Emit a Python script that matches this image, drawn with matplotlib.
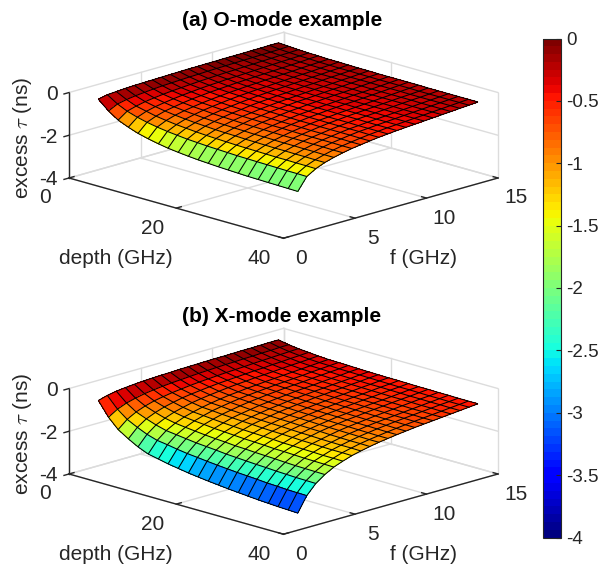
import numpy as np
import matplotlib
matplotlib.use("Agg")
import matplotlib.pyplot as plt
from matplotlib.cm import ScalarMappable
from matplotlib.colors import Normalize
from mpl_toolkits.mplot3d import proj3d

plt.rcParams["font.family"] = ["Liberation Sans", "DejaVu Sans"]
plt.rcParams["axes.unicode_minus"] = False
plt.rcParams["mathtext.fontset"] = "cm"

W, H = 602, 564
TEXT = "#262626"

# depth and frequency nodes of the mesh
depth = [2.8, 4.7, 6.5, 8.4, 10.2, 12.1, 14.0, 15.8, 17.7, 19.6, 21.4,
         23.3, 25.2, 27.0, 28.9, 30.7, 32.6, 34.5, 36.3, 38.2, 40.0]
freq = [1.0, 1.63, 2.26, 2.89, 3.52, 4.15, 4.78, 5.41, 6.04, 6.67, 7.3,
        7.93, 8.56, 9.19, 9.82, 10.45, 11.08, 11.71, 12.34, 12.97, 13.6]

# excess delay, one row per frequency, one column per depth
tau_o = [
    [-.30, -.72, -1.02, -1.22, -1.38, -1.50, -1.60, -1.68, -1.74, -1.79, -1.83, -1.86, -1.89, -1.91, -1.93, -1.95, -1.96, -1.97, -1.98, -1.99, -2.00],
    [-.21, -.51, -.72, -.87, -.98, -1.07, -1.14, -1.19, -1.24, -1.27, -1.30, -1.32, -1.34, -1.36, -1.37, -1.38, -1.39, -1.40, -1.41, -1.41, -1.42],
    [-.18, -.42, -.60, -.71, -.81, -.88, -.94, -.98, -1.02, -1.05, -1.07, -1.09, -1.11, -1.12, -1.13, -1.14, -1.15, -1.15, -1.16, -1.16, -1.17],
    [-.15, -.36, -.51, -.61, -.69, -.75, -.80, -.84, -.87, -.90, -.92, -.93, -.95, -.96, -.97, -.98, -.98, -.99, -.99, -1.00, -1.00],
    [-.13, -.32, -.45, -.54, -.61, -.66, -.70, -.74, -.77, -.79, -.81, -.82, -.84, -.84, -.85, -.86, -.86, -.87, -.87, -.88, -.88],
    [-.12, -.28, -.40, -.48, -.54, -.59, -.62, -.66, -.68, -.70, -.72, -.73, -.74, -.75, -.76, -.76, -.76, -.77, -.77, -.78, -.78],
    [-.11, -.25, -.36, -.43, -.48, -.53, -.56, -.59, -.61, -.63, -.64, -.65, -.67, -.67, -.68, -.69, -.69, -.69, -.69, -.70, -.70],
    [-.10, -.23, -.33, -.39, -.44, -.48, -.51, -.54, -.56, -.58, -.59, -.60, -.61, -.61, -.62, -.63, -.63, -.63, -.63, -.64, -.64],
    [-.09, -.21, -.30, -.35, -.40, -.44, -.46, -.49, -.50, -.52, -.53, -.54, -.55, -.56, -.56, -.57, -.57, -.57, -.57, -.58, -.58],
    [-.08, -.19, -.27, -.32, -.37, -.40, -.42, -.45, -.46, -.48, -.49, -.49, -.50, -.51, -.51, -.52, -.52, -.52, -.52, -.53, -.53],
    [-.07, -.18, -.25, -.30, -.34, -.37, -.39, -.41, -.43, -.44, -.45, -.46, -.47, -.47, -.48, -.48, -.48, -.49, -.49, -.49, -.49],
    [-.07, -.16, -.23, -.27, -.31, -.34, -.36, -.38, -.39, -.41, -.41, -.42, -.43, -.43, -.44, -.44, -.44, -.45, -.45, -.45, -.45],
    [-.06, -.15, -.21, -.26, -.29, -.32, -.34, -.35, -.37, -.38, -.39, -.39, -.40, -.40, -.41, -.41, -.41, -.42, -.42, -.42, -.42],
    [-.06, -.14, -.20, -.24, -.27, -.29, -.31, -.33, -.34, -.35, -.36, -.36, -.37, -.37, -.38, -.38, -.38, -.39, -.39, -.39, -.39],
    [-.05, -.13, -.18, -.22, -.25, -.27, -.29, -.30, -.31, -.32, -.33, -.33, -.34, -.35, -.35, -.35, -.35, -.36, -.36, -.36, -.36],
    [-.05, -.12, -.17, -.20, -.23, -.25, -.26, -.28, -.29, -.30, -.30, -.31, -.31, -.32, -.32, -.32, -.32, -.33, -.33, -.33, -.33],
    [-.05, -.11, -.15, -.18, -.21, -.23, -.24, -.25, -.26, -.27, -.28, -.28, -.29, -.29, -.29, -.29, -.29, -.30, -.30, -.30, -.30],
    [-.04, -.10, -.14, -.16, -.19, -.20, -.22, -.23, -.23, -.24, -.25, -.25, -.26, -.26, -.26, -.26, -.26, -.27, -.27, -.27, -.27],
    [-.04, -.09, -.12, -.15, -.17, -.18, -.19, -.20, -.21, -.22, -.22, -.22, -.23, -.23, -.23, -.24, -.24, -.24, -.24, -.24, -.24],
    [-.03, -.08, -.11, -.13, -.14, -.16, -.17, -.18, -.18, -.19, -.19, -.20, -.20, -.20, -.20, -.21, -.21, -.21, -.21, -.21, -.21],
    [-.03, -.06, -.09, -.11, -.12, -.14, -.14, -.15, -.16, -.16, -.17, -.17, -.17, -.17, -.17, -.18, -.18, -.18, -.18, -.18, -.18],
]

tau_x = [
    [-.55, -1.20, -1.65, -1.95, -2.20, -2.40, -2.50, -2.60, -2.68, -2.76, -2.82, -2.88, -2.93, -2.98, -3.02, -3.06, -3.10, -3.13, -3.16, -3.18, -3.20],
    [-.43, -.94, -1.29, -1.53, -1.73, -1.88, -1.95, -2.03, -2.10, -2.15, -2.20, -2.25, -2.29, -2.33, -2.36, -2.39, -2.43, -2.45, -2.48, -2.49, -2.50],
    [-.35, -.77, -1.06, -1.25, -1.41, -1.54, -1.60, -1.66, -1.72, -1.76, -1.80, -1.85, -1.88, -1.91, -1.94, -1.96, -1.99, -2.01, -2.03, -2.04, -2.05],
    [-.30, -.66, -.90, -1.07, -1.21, -1.31, -1.37, -1.42, -1.47, -1.51, -1.54, -1.58, -1.60, -1.63, -1.65, -1.67, -1.70, -1.72, -1.73, -1.74, -1.75],
    [-.26, -.57, -.78, -.93, -1.05, -1.14, -1.19, -1.23, -1.28, -1.31, -1.34, -1.37, -1.39, -1.41, -1.44, -1.45, -1.47, -1.49, -1.50, -1.51, -1.52],
    [-.23, -.51, -.70, -.83, -.94, -1.02, -1.06, -1.10, -1.14, -1.17, -1.20, -1.22, -1.24, -1.26, -1.29, -1.30, -1.32, -1.33, -1.35, -1.35, -1.36],
    [-.21, -.46, -.63, -.74, -.84, -.92, -.95, -.99, -1.02, -1.05, -1.07, -1.10, -1.12, -1.13, -1.15, -1.17, -1.18, -1.20, -1.21, -1.21, -1.22],
    [-.19, -.42, -.58, -.68, -.77, -.84, -.87, -.91, -.94, -.96, -.99, -1.01, -1.02, -1.04, -1.06, -1.07, -1.09, -1.10, -1.11, -1.11, -1.12],
    [-.18, -.39, -.53, -.63, -.71, -.77, -.80, -.83, -.87, -.89, -.91, -.93, -.94, -.96, -.97, -.98, -1.00, -1.01, -1.02, -1.02, -1.03],
    [-.16, -.36, -.49, -.58, -.66, -.71, -.74, -.77, -.80, -.82, -.84, -.86, -.87, -.88, -.90, -.91, -.92, -.93, -.94, -.95, -.95],
    [-.15, -.33, -.46, -.54, -.61, -.67, -.69, -.72, -.75, -.77, -.78, -.80, -.81, -.83, -.84, -.85, -.86, -.87, -.88, -.89, -.89],
    [-.14, -.31, -.43, -.51, -.57, -.62, -.65, -.67, -.70, -.71, -.73, -.75, -.76, -.77, -.78, -.79, -.81, -.81, -.82, -.83, -.83],
    [-.13, -.29, -.40, -.48, -.54, -.59, -.61, -.63, -.66, -.67, -.69, -.70, -.71, -.73, -.74, -.75, -.76, -.76, -.77, -.78, -.78],
    [-.12, -.27, -.38, -.45, -.50, -.55, -.57, -.59, -.61, -.63, -.64, -.66, -.67, -.68, -.69, -.70, -.71, -.72, -.72, -.73, -.73],
    [-.12, -.26, -.36, -.42, -.48, -.52, -.54, -.56, -.58, -.59, -.61, -.62, -.63, -.64, -.65, -.66, -.67, -.68, -.68, -.69, -.69],
    [-.11, -.24, -.33, -.40, -.45, -.49, -.51, -.53, -.55, -.56, -.57, -.59, -.59, -.60, -.61, -.62, -.63, -.64, -.64, -.65, -.65],
    [-.10, -.23, -.31, -.37, -.42, -.46, -.48, -.49, -.51, -.52, -.54, -.55, -.56, -.57, -.58, -.58, -.59, -.60, -.60, -.61, -.61],
    [-.10, -.21, -.29, -.35, -.39, -.43, -.44, -.46, -.48, -.49, -.50, -.51, -.52, -.53, -.54, -.54, -.55, -.56, -.56, -.57, -.57],
    [-.09, -.20, -.27, -.32, -.37, -.40, -.41, -.43, -.45, -.46, -.47, -.48, -.48, -.49, -.50, -.51, -.51, -.52, -.52, -.53, -.53],
    [-.08, -.18, -.25, -.30, -.34, -.37, -.38, -.40, -.41, -.42, -.43, -.44, -.45, -.46, -.46, -.47, -.48, -.48, -.49, -.49, -.49],
    [-.08, -.17, -.23, -.27, -.31, -.34, -.35, -.36, -.38, -.39, -.40, -.41, -.41, -.42, -.43, -.43, -.44, -.44, -.45, -.45, -.45],
]

depth_ticks = [0, 20, 40]
freq_ticks = [0, 5, 10, 15]
tau_ticks = [-4, -2, 0]
cbar_ticks = [0, -0.5, -1, -1.5, -2, -2.5, -3, -3.5, -4]
cbar_labels = ["0", "-0.5", "-1", "-1.5", "-2", "-2.5", "-3", "-3.5", "-4"]

cmap = plt.get_cmap("jet", 64)
norm = Normalize(-4, 0)


def project(ax, x, y, z):
    x2, y2, _ = proj3d.proj_transform(x, y, z, ax.get_proj())
    return x2, y2


def to_pixels(ax, x, y, z):
    return ax.transData.transform(project(ax, x, y, z))


def fit_box(ax, left_x, right_x, corner_y):
    # scale and move the axes so that the floor corners land on these pixels
    ax.apply_aspect()
    p0 = to_pixels(ax, 0, 0, -4)
    p1 = to_pixels(ax, 40, 15, -4)
    pos = ax.get_position()
    size = pos.width * W * (right_x - left_x) / (p1[0] - p0[0])
    ax.set_position([pos.x0, pos.y0, size / W, size / H])
    ax.apply_aspect()
    p0 = to_pixels(ax, 0, 0, -4)
    pos = ax.get_position()
    ax.set_position([pos.x0 + (left_x - p0[0]) / W,
                     pos.y0 + (H - corner_y - p0[1]) / H,
                     pos.width, pos.height])
    ax.apply_aspect()


def draw_panel(tau, title, title_y, corner_y):
    ax = fig.add_axes([0.1, 0.1, 0.5, 0.5 * W / H], projection="3d", computed_zorder=False)
    ax.patch.set_visible(False)
    ax.set_proj_type("ortho")
    ax.view_init(elev=16.3, azim=-45)
    ax.set_box_aspect((1, 1, 0.2935))
    ax.set_xlim(0, 40, view_margin=0)
    ax.set_ylim(0, 15, view_margin=0)
    ax.set_zlim(-4, 0, view_margin=0)
    ax.set_axis_off()
    fit_box(ax, 69, 498, corner_y)

    # back walls and floor grid
    grid = {"color": "#dcdcdc", "lw": 1.0, "zorder": 1, "clip_on": False}
    for d in depth_ticks:
        ax.plot([d, d], [0, 15], [-4, -4], **grid)
        ax.plot([d, d], [15, 15], [-4, 0], **grid)
    for f in freq_ticks:
        ax.plot([0, 40], [f, f], [-4, -4], **grid)
        ax.plot([0, 0], [f, f], [-4, 0], **grid)
    for z in tau_ticks:
        ax.plot([0, 0], [0, 15], [z, z], **grid)
        ax.plot([0, 40], [15, 15], [z, z], **grid)

    X, Y = np.meshgrid(depth, freq)
    Z = np.array(tau)
    surf = ax.plot_surface(X, Y, Z, facecolors=cmap(norm(Z)), rstride=1, cstride=1,
                           shade=False, linewidth=0, antialiased=False, zorder=2)
    surf.set_clip_on(False)
    # mesh lines on top so both directions stay equally visible
    mesh = ax.plot_wireframe(X, Y, Z, rstride=1, cstride=1, color="black", linewidth=0.75, zorder=3)
    mesh.set_clip_on(False)

    # front axis lines and ticks
    line = {"color": TEXT, "lw": 1.0, "zorder": 4, "clip_on": False}
    label = {"textcoords": "offset pixels", "va": "center", "fontsize": 15, "color": TEXT,
             "annotation_clip": False}
    ax.plot([0, 40], [0, 0], [-4, -4], **line)
    ax.plot([40, 40], [0, 15], [-4, -4], **line)
    ax.plot([0, 0], [0, 0], [-4, 0], **line)
    for d in depth_ticks:
        ax.plot([d, d], [0, 0.35], [-4, -4], **line)
        ax.annotate(str(d), project(ax, d, 0, -4), xytext=(-24, -20), ha="center", **label)
    for f in freq_ticks:
        ax.plot([40, 39.1], [f, f], [-4, -4], **line)
        ax.annotate(str(f), project(ax, 40, f, -4), xytext=(18, -20), ha="center", **label)
    for z in tau_ticks:
        ax.plot([0, 0], [0, -0.35], [z, z], **line)
        ax.annotate(str(z), project(ax, 0, 0, z), xytext=(-11, -2), ha="right", **label)

    fig.text(282 / W, 1 - title_y / H, title, ha="center", va="center",
             fontsize=15, fontweight="bold", color="black")
    fig.text(116 / W, 1 - (corner_y + 81) / H, "depth (GHz)", ha="center", va="center",
             fontsize=15, color=TEXT)
    fig.text(423 / W, 1 - (corner_y + 81) / H, "f (GHz)", ha="center", va="center",
             fontsize=15, color=TEXT)
    fig.text(22 / W, 1 - (corner_y - 40) / H, r"excess $\tau$ (ns)", ha="center", va="center",
             rotation=90, fontsize=15, color=TEXT)
    return ax


fig = plt.figure(figsize=(W / 100, H / 100), dpi=100)
draw_panel(tau_o, "(a) O-mode example", 21, 178)
draw_panel(tau_x, "(b) X-mode example", 317, 474)

# colorbar
cax = fig.add_axes([542.5 / W, 1 - 537.5 / H, 18.5 / W, 499 / H])
cb = fig.colorbar(ScalarMappable(norm=norm, cmap=cmap), cax=cax)
cb.set_ticks(cbar_ticks)
cb.set_ticklabels(cbar_labels)
cb.ax.tick_params(direction="in", length=3.5, width=0.8, color=TEXT, labelcolor=TEXT,
                  labelsize=13.5, pad=4)
cb.outline.set_edgecolor(TEXT)
cb.outline.set_linewidth(0.8)

fig.savefig("out.png", dpi=100)
